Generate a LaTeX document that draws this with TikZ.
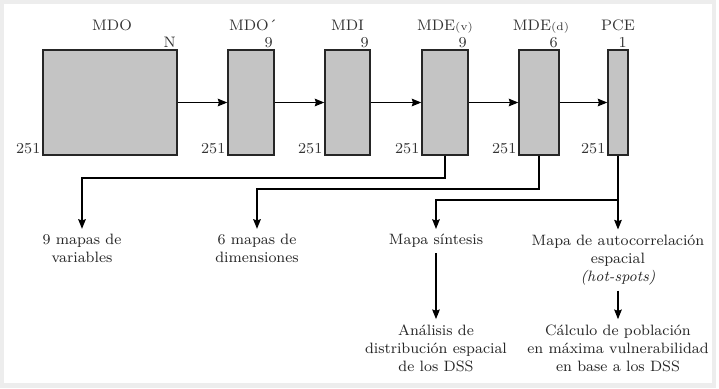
\documentclass[tikz,border=0pt]{standalone}
\usetikzlibrary{arrows.meta,positioning}

\begin{document}
\begin{tikzpicture}[x=0.5pt, y=-0.5pt]
  % Rahmen.
  \fill[white] (0,0) rectangle (719,388);
  \fill[black!7] (0,0) rectangle (716,388);
  \fill[white] (4,4) rectangle (712,383);
  \useasboundingbox (0,0) rectangle (719,388);

  \tikzstyle{mat}=[draw=black!85, line width=0.65pt, fill=black!23, minimum height=52.5pt, inner sep=0pt]
  \tikzstyle{titulo}=[font=\fontsize{7.6}{9}\selectfont, inner sep=0pt, text=black!80]
  \tikzstyle{dim}=[font=\fontsize{7.6}{9}\selectfont, inner sep=0.8pt, text=black!80]
  \tikzstyle{texto}=[font=\fontsize{7.5}{9}\selectfont, align=center, inner sep=2.5pt, text=black!85]
  \tikzstyle{flecha}=[line width=0.65pt, -{Stealth[length=4.8pt, width=3.8pt, inset=0.6pt]}]
  \tikzstyle{linea}=[line width=0.65pt]

  % Matrices.
  \node[mat, minimum width=67pt] (mdo) at (110,102.5) {};
  \node[mat, minimum width=23pt] (mdop) at (251,102.5) {};
  \node[mat, minimum width=22.5pt] (mdi) at (347.5,102.5) {};
  \node[mat, minimum width=23pt] (mdev) at (445,102.5) {};
  \node[mat, minimum width=20pt] (mded) at (539,102.5) {};
  \node[mat, minimum width=10pt] (pce) at (618,102.5) {};

  % Titulos.
  \node[titulo, above=9.3pt of mdo.north, anchor=base, xshift=1pt] (tmdo) {MDO};
  \node[titulo, above=9.3pt of mdop.north, anchor=base, xshift=1pt] (tmdop) {MDO´};
  \node[titulo, above=9.3pt of mdi.north, anchor=base] (tmdi) {MDI};
  \node[titulo, above=9.3pt of mdev.north, anchor=base] (tmdev) {MDE{\fontsize{5.5}{6}\selectfont(v)}};
  \node[titulo, above=9.3pt of mded.north, anchor=base, xshift=1pt] (tmded) {MDE{\fontsize{5.5}{6}\selectfont(d)}};
  \node[titulo, above=9.3pt of pce.north, anchor=base] (tpce) {PCE};

  % Dimensiones.
  \node[dim, anchor=south east] (nmdo) at (mdo.north east) {N};
  \node[dim, anchor=south east] (nmdop) at (mdop.north east) {9};
  \node[dim, anchor=south east] (nmdi) at (mdi.north east) {9};
  \node[dim, anchor=south east] (nmdev) at (mdev.north east) {9};
  \node[dim, anchor=south east] (nmded) at (mded.north east) {6};
  \node[dim, anchor=south east] (npce) at (pce.north east) {1};
  \node[dim, anchor=south east] (fmdo) at (mdo.south west) {251};
  \node[dim, anchor=south east] (fmdop) at (mdop.south west) {251};
  \node[dim, anchor=south east] (fmdi) at (mdi.south west) {251};
  \node[dim, anchor=south east] (fmdev) at (mdev.south west) {251};
  \node[dim, anchor=south east] (fmded) at (mded.south west) {251};
  \node[dim, anchor=south east] (fpce) at (pce.south west) {251};

  \draw[flecha] (mdo) -- (mdop);
  \draw[flecha] (mdop) -- (mdi);
  \draw[flecha] (mdi) -- (mdev);
  \draw[flecha] (mdev) -- (mded);
  \draw[flecha] (mded) -- (pce);

  % Resultados.
  \node[texto] (vars) at (82,248.5) {9 mapas de\\variables};
  \node[texto] (dims) at (257,248.5) {6 mapas de\\dimensiones};
  \node[texto] (sint) at (436,241) {Mapa síntesis};
  \node[texto] (auto) at (618,260) {Mapa de autocorrelación\\espacial\\\textit{(hot-spots)}};
  \node[texto] (anal) at (436,348) {Análisis de\\distribución espacial\\de los DSS};
  \node[texto] (calc) at (618,348) {Cálculo de población\\en máxima vulnerabilidad\\en base a los DSS};

  \coordinate (r1) at (0,178);
  \coordinate (r2) at (0,189);
  \coordinate (r3) at (0,200);

  \draw[flecha] (mdev.south) -- (mdev.south |- r1) -| (vars.north);
  \draw[flecha] (mded.south) -- (mded.south |- r2) -| (dims.north);
  \draw[linea] (pce.south) -- (pce.south |- r3);
  \draw[flecha] (pce.south |- r3) -- (auto.north);
  \draw[flecha] (pce.south |- r3) -| (sint.north);
  \draw[flecha] (sint) -- (anal);
  \draw[flecha] (auto) -- (calc);
\end{tikzpicture}
\end{document}
